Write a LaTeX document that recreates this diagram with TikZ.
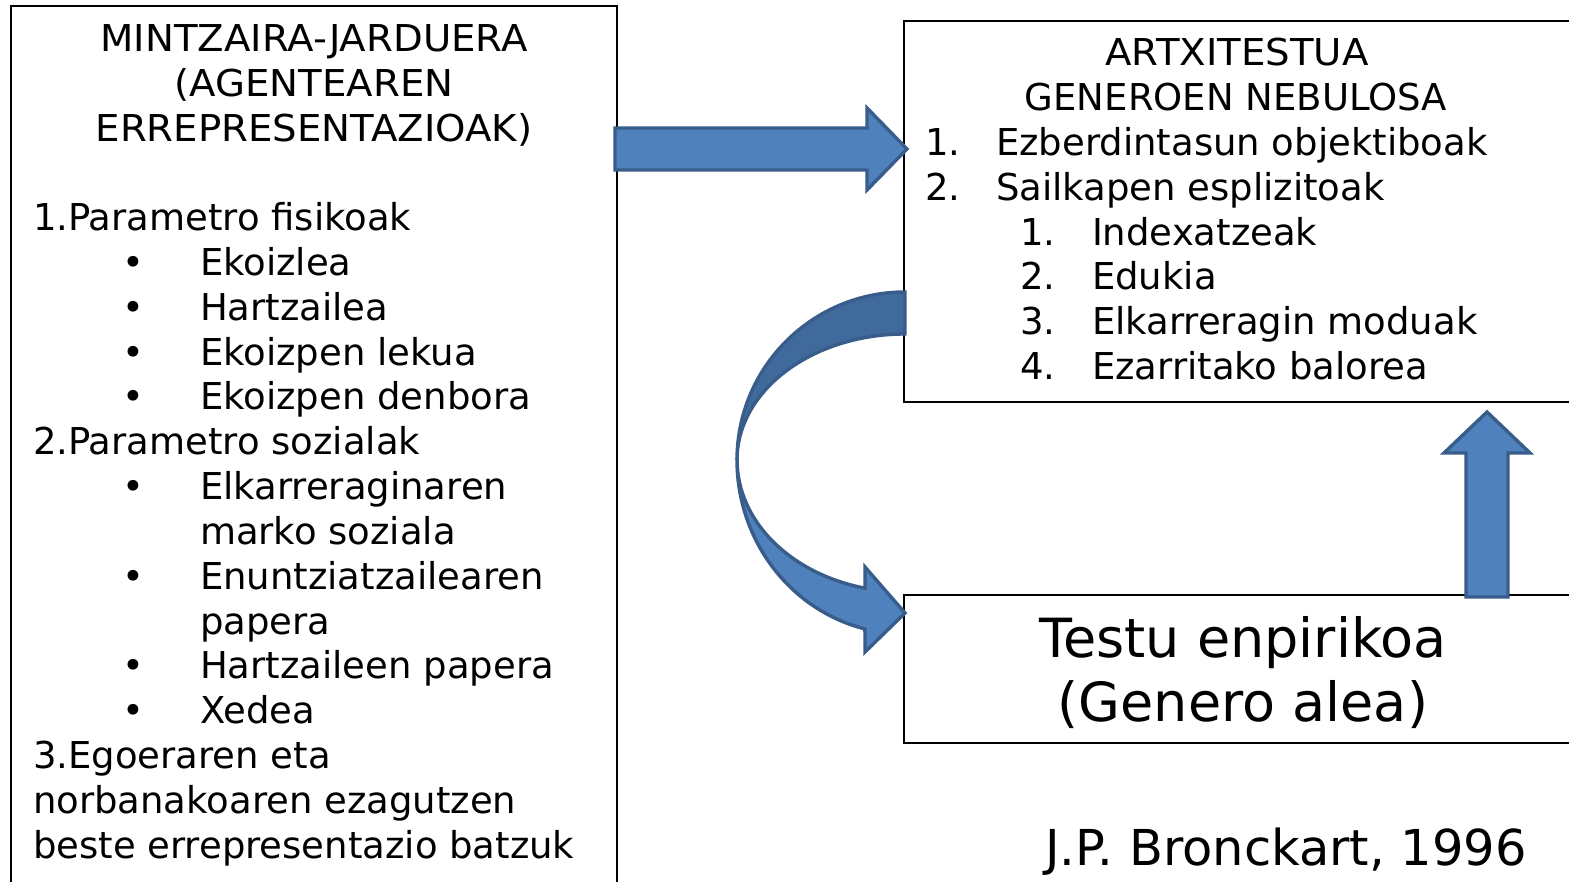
\documentclass[tikz,border=0pt]{standalone}
\usepackage{fontspec}
\setmainfont{DejaVu Sans}
\newfontfamily\wideface[FakeStretch=1.045]{DejaVu Sans}
\begin{document}
\begin{tikzpicture}[x=1pt,y=1pt,
  box/.style={draw=black,line width=1.6pt,rectangle,inner sep=0pt},
  txt/.style={inner sep=0pt,outer sep=0pt,font=\fontsize{37}{45}\selectfont},
  capt/.style={inner sep=0pt,outer sep=0pt,font=\wideface\fontsize{37}{45}\selectfont},
  big/.style={inner sep=0pt,outer sep=0pt,font=\fontsize{54}{64}\selectfont},
  cite/.style={inner sep=0pt,outer sep=0pt,font=\fontsize{49.5}{56}\selectfont},
  barrow/.style={fill=arrowfill,draw=arrowline,line width=3.4pt,line join=miter},
  darrow/.style={fill=arrowdark,draw=arrowline,line width=3.4pt,line join=miter}]
\definecolor{arrowfill}{HTML}{4F81BD}
\definecolor{arrowdark}{HTML}{406A9C}
\definecolor{arrowline}{HTML}{385D8A}
\useasboundingbox (0,0) rectangle (1569,881);
\fill[white] (0,0) rectangle (1569,881);

% boxes
\node[box,minimum width=606pt,minimum height=895pt] (leftbox) at (314,427.5) {};
\node[box,minimum width=680pt,minimum height=381pt] (topbox) at (1244,669.5) {};
\node[box,minimum width=680pt,minimum height=148pt] (botbox) at (1244,212) {};

% left box text
\node[capt,anchor=base] (h1) at (314,829) {MINTZAIRA-JARDUERA};
\node[capt,anchor=base] (h2) at (314,784) {(AGENTEAREN};
\node[capt,anchor=base] (h3) at (314,739) {ERREPRESENTAZIOAK)};
\node[txt,anchor=base west] (p1) at (33,650) {1.Parametro fisikoak};
\node[txt,anchor=base] (b1) at (133,605) {•};
\node[txt,anchor=base west] (t1) at (200,605) {Ekoizlea};
\node[txt,anchor=base] (b2) at (133,560) {•};
\node[txt,anchor=base west] (t2) at (200,560) {Hartzailea};
\node[txt,anchor=base] (b3) at (133,515) {•};
\node[txt,anchor=base west] (t3) at (200,515) {Ekoizpen lekua};
\node[txt,anchor=base] (b4) at (133,471) {•};
\node[txt,anchor=base west] (t4) at (200,471) {Ekoizpen denbora};
\node[txt,anchor=base west] (p2) at (33,426) {2.Parametro sozialak};
\node[txt,anchor=base] (b5) at (133,381) {•};
\node[txt,anchor=base west] (t5) at (200,381) {Elkarreraginaren};
\node[txt,anchor=base west] (t5b) at (200,336) {marko soziala};
\node[txt,anchor=base] (b6) at (133,291) {•};
\node[txt,anchor=base west] (t6) at (200,291) {Enuntziatzailearen};
\node[txt,anchor=base west] (t6b) at (200,246) {papera};
\node[txt,anchor=base] (b7) at (133,202) {•};
\node[txt,anchor=base west] (t7) at (200,202) {Hartzaileen papera};
\node[txt,anchor=base] (b8) at (133,157) {•};
\node[txt,anchor=base west] (t8) at (200,157) {Xedea};
\node[txt,anchor=base west] (p3) at (33,112) {3.Egoeraren eta};
\node[txt,anchor=base west] (p3b) at (33,67) {norbanakoaren ezagutzen};
\node[txt,anchor=base west] (p3c) at (33,23) {beste errepresentazio batzuk};

% top right box text
\node[capt,anchor=base] (r1) at (1237,815) {ARTXITESTUA};
\node[txt,anchor=base] (r2) at (1236,770) {GENEROEN NEBULOSA};
\node[txt,anchor=base west] (n1) at (925,725) {1.};
\node[txt,anchor=base west] (n1t) at (996,725) {Ezberdintasun objektiboak};
\node[txt,anchor=base west] (n2) at (925,680) {2.};
\node[txt,anchor=base west] (n2t) at (996,680) {Sailkapen esplizitoak};
\node[txt,anchor=base west] (s1) at (1020,635) {1.};
\node[txt,anchor=base west] (s1t) at (1092,635) {Indexatzeak};
\node[txt,anchor=base west] (s2) at (1020,591) {2.};
\node[txt,anchor=base west] (s2t) at (1092,591) {Edukia};
\node[txt,anchor=base west] (s3) at (1020,546) {3.};
\node[txt,anchor=base west] (s3t) at (1092,546) {Elkarreragin moduak};
\node[txt,anchor=base west] (s4) at (1020,501) {4.};
\node[txt,anchor=base west] (s4t) at (1092,501) {Ezarritako balorea};

% bottom box text
\node[big,anchor=base] (e1) at (1243,223) {Testu enpirikoa};
\node[big,anchor=base] (e2) at (1243,159) {(Genero alea)};

\node[cite,anchor=base] (src) at (1286,16) {J.P. Bronckart, 1996};

% right block arrow
\draw[barrow] (615,753) -- (867,753) -- (867,773) -- (907,732) -- (867,691) -- (867,711) -- (615,711) -- cycle;

% up block arrow
\draw[barrow] (1466,284) -- (1466,428) -- (1444,428) -- (1487,469) -- (1530,428) -- (1508,428) -- (1508,284) -- cycle;

% curved arrow: upper dark crescent
\draw[darrow] (905,589) arc[start angle=90,end angle=180,x radius=168,y radius=168]
  arc[start angle=180,end angle=90,x radius=168,y radius=126] -- cycle;
% lower band with head
\draw[barrow] (737,421) arc[start angle=180,end angle=256.2,x radius=168,y radius=174]
  -- (865,229) -- (905,268) -- (865,314) -- (865,292.8)
  arc[start angle=256.2,end angle=180,x radius=168,y radius=132] -- cycle;
\end{tikzpicture}
\end{document}
